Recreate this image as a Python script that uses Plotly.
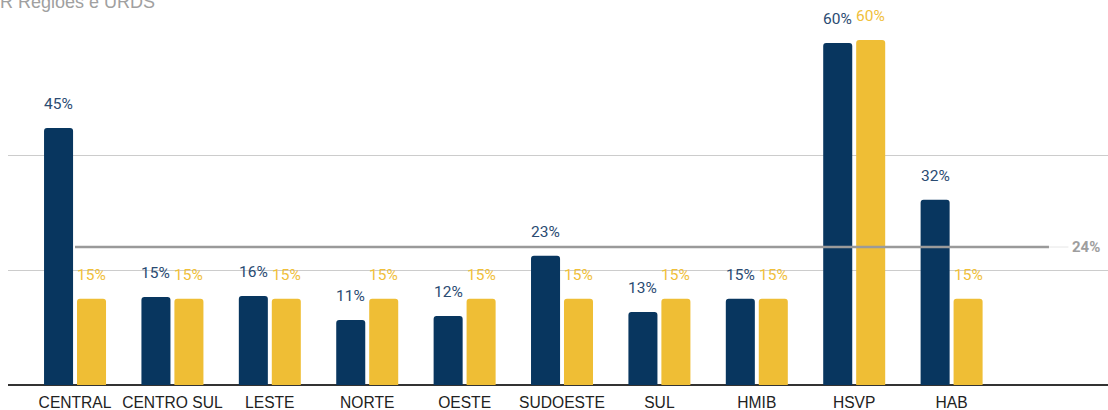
import plotly.graph_objects as go

categories = ["CENTRAL", "CENTRO SUL", "LESTE", "NORTE", "OESTE",
              "SUDOESTE", "SUL", "HMIB", "HSVP", "HAB"]
navy_values = [44.7, 15.3, 15.5, 11.3, 12.0, 22.5, 12.7, 15.0, 59.5, 32.2]
navy_labels = ["45%", "15%", "16%", "11%", "12%", "23%", "13%", "15%", "60%", "32%"]
yellow_values = [15, 15, 15, 15, 15, 15, 15, 15, 60, 15]
yellow_labels = ["15%", "15%", "15%", "15%", "15%", "15%", "15%", "15%", "60%", "15%"]
reference_value = 24
reference_label = "24%"
y_ticks = [0, 20, 40, 60]
title_text = "R Regiões e URDS"

NAVY = "#08365f"
YELLOW = "#efbe35"
NAVY_TXT = "#2a4b72"
YELLOW_TXT = "#f0c03a"

x_idx = list(range(len(categories)))
BAR_W = 0.298
NAVY_OFF = -0.318
YELLOW_OFF = 0.0205

fig = go.Figure()
fig.add_trace(go.Bar(x=x_idx, y=navy_values, width=BAR_W, offset=NAVY_OFF,
                     marker=dict(color=NAVY, line=dict(width=0)),
                     showlegend=False, hoverinfo="skip"))
fig.add_trace(go.Bar(x=x_idx, y=yellow_values, width=BAR_W, offset=YELLOW_OFF,
                     marker=dict(color=YELLOW, line=dict(width=0)),
                     showlegend=False, hoverinfo="skip"))

# reference line
ref_end = len(categories)
fig.add_trace(go.Scatter(x=[0, ref_end], y=[reference_value, reference_value],
                         mode="lines", line=dict(color="#9a9a9a", width=2.5),
                         showlegend=False, hoverinfo="skip", cliponaxis=False))
fig.add_trace(go.Scatter(x=[ref_end, ref_end + 0.2], y=[reference_value, reference_value],
                         mode="lines", line=dict(color="#e6e6e6", width=1),
                         showlegend=False, hoverinfo="skip", cliponaxis=False))

annotations = []
for i in x_idx:
    annotations.append(dict(x=i + NAVY_OFF + BAR_W / 2, y=navy_values[i], xref="x", yref="y",
                            text=navy_labels[i], showarrow=False, yanchor="middle",
                            yshift=24, font=dict(family="Roboto", size=15.5, color=NAVY_TXT)))
    annotations.append(dict(x=i + YELLOW_OFF + BAR_W / 2, y=yellow_values[i], xref="x", yref="y",
                            text=yellow_labels[i], showarrow=False, yanchor="middle",
                            yshift=24, font=dict(family="Roboto", size=15.5, color=YELLOW_TXT)))
annotations.append(dict(x=ref_end + 0.2, y=reference_value, xref="x", yref="y",
                        text="<b>" + reference_label + "</b>", showarrow=False,
                        xanchor="left", yanchor="middle", xshift=2,
                        font=dict(family="Roboto", size=15, color="#9e9e9e")))
annotations.append(dict(x=0, y=1, xref="paper", yref="paper", text=title_text,
                        showarrow=False, xanchor="left", yanchor="bottom",
                        xshift=-10, yshift=26,
                        font=dict(family="Liberation Sans, Arial", size=18, color="#a0a0a0")))

fig.update_layout(
    width=1108, height=410,
    margin=dict(l=8, r=0, t=40, b=25),
    plot_bgcolor="white", paper_bgcolor="white",
    barmode="overlay",
    annotations=annotations,
    xaxis=dict(range=[-0.688, 10.606], tickmode="array", tickvals=x_idx,
               ticktext=categories, showgrid=False, zeroline=False,
               showline=False, ticks="", automargin=False, ticklabelstandoff=6,
               tickfont=dict(family="Liberation Sans, Arial", size=15.6, color="#222222")),
    yaxis=dict(range=[0, 60], tickmode="array", tickvals=y_ticks, showticklabels=False,
               showgrid=True, gridcolor="#cccccc", gridwidth=1,
               zeroline=True, zerolinecolor="#333333", zerolinewidth=1.5,
               automargin=False, fixedrange=True),
    barcornerradius=3,
)

fig.write_html("out.html", config={"displayModeBar": False},
               post_script="document.body.style.margin='0';document.body.style.overflow='hidden';")
